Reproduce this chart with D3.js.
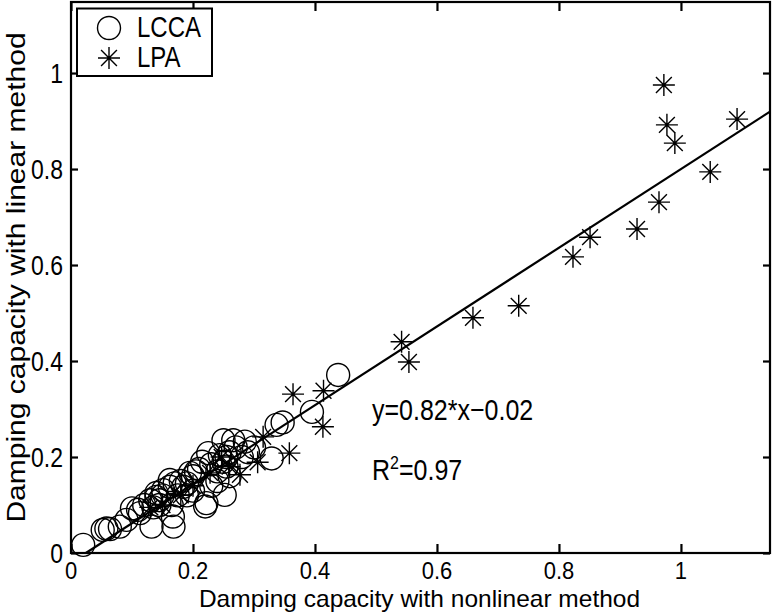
<!DOCTYPE html>
<html><head><meta charset="utf-8">
<script src="https://cdn.jsdelivr.net/npm/d3@7"></script>
<style>body{margin:0;background:#fff}svg{display:block}text{font-family:"Liberation Sans",Arial,sans-serif}</style>
</head><body>
<svg id="c" width="772" height="613"></svg>
<script>
const xTicks = [0, 0.2, 0.4, 0.6, 0.8, 1];
const yTicks = [0, 0.2, 0.4, 0.6, 0.8, 1];
const xTickLabels = ["0","0.2","0.4","0.6","0.8","1"];
const yTickLabels = ["0","0.2","0.4","0.6","0.8","1"];
const seriesNames = ["LCCA","LPA"];
const lccaX = [0.02,0.052,0.058,0.064,0.08,0.091,0.10,0.113,0.132,0.13,0.14,0.145,0.168,0.162,0.17,0.151,0.184,0.195,0.162,0.167,0.22,0.252,0.255,0.225,0.244,0.25,0.266,0.285,0.329,0.337,0.347,0.395,0.438,0.222,0.12,0.135,0.14,0.15,0.175,0.18,0.19,0.2,0.21,0.215,0.23,0.24,0.255,0.26,0.27,0.28,0.29,0.30,0.24,0.26,0.2,0.23,0.11,0.145,0.165,0.19,0.205,0.25];
const lccaY = [0.017,0.048,0.051,0.05,0.055,0.069,0.093,0.083,0.055,0.11,0.117,0.10,0.055,0.138,0.145,0.131,0.138,0.167,0.152,0.076,0.097,0.121,0.18,0.208,0.204,0.235,0.235,0.232,0.197,0.267,0.272,0.294,0.371,0.104,0.10,0.095,0.125,0.12,0.12,0.15,0.145,0.16,0.175,0.19,0.185,0.17,0.20,0.21,0.22,0.20,0.21,0.22,0.15,0.16,0.13,0.14,0.09,0.11,0.10,0.12,0.17,0.19];
const lpaX = [0.972,0.977,0.990,1.092,1.048,0.964,0.928,0.851,0.823,0.734,0.659,0.542,0.554,0.364,0.414,0.413,0.358,0.315,0.306,0.277,0.247,0.228,0.20,0.18,0.26,0.15,0.13];
const lpaY = [0.975,0.892,0.854,0.904,0.794,0.731,0.675,0.658,0.617,0.515,0.490,0.440,0.398,0.331,0.338,0.263,0.208,0.242,0.189,0.163,0.20,0.167,0.14,0.12,0.18,0.10,0.095];
const fitSlope = 0.82, fitIntercept = -0.02;
const eqText = "y=0.82*x\u22120.02";
const r2Value = "0.97";
const xLabel = "Damping capacity with nonlinear method";
const yLabel = "Damping capacity with linear method";

const svg = d3.select("#c");
const L = 71, R = 770, T = 2, B = 553;
const SY = 1.2;
const x = d3.scaleLinear().domain([0, 1.146]).range([L, R]);
const y = d3.scaleLinear().domain([0, 1.148]).range([B, T]);

function stext(parent, px, py, str, size, anchor, sy){
  return parent.append("text").attr("transform",`translate(${px},${py}) scale(1,${sy||SY})`)
    .attr("font-size",size).attr("text-anchor",anchor||"start").attr("fill","#000").text(str);
}

const g = svg.append("g");
g.selectAll("circle.d").data(lccaX.map((v,i)=>[v,lccaY[i]])).join("circle")
 .attr("cx", d=>x(d[0])).attr("cy", d=>y(d[1])).attr("r", 11.5)
 .attr("fill","none").attr("stroke","#000").attr("stroke-width",1.4);
function star(sel, s){
  const a = s*0.72;
  sel.append("path").attr("d", `M${-s},0H${s}M0,${-s}V${s}M${-a},${-a}L${a},${a}M${-a},${a}L${a},${-a}`)
    .attr("stroke","#000").attr("stroke-width",1.4).attr("fill","none");
}
g.selectAll("g.s").data(lpaX.map((v,i)=>[v,lpaY[i]])).join("g")
 .attr("transform", d=>`translate(${x(d[0])},${y(d[1])})`).each(function(){ star(d3.select(this), 11); });

const x0 = -fitIntercept/fitSlope, x1 = 1.146;
svg.append("line").attr("x1", x(x0)).attr("y1", y(fitSlope*x0+fitIntercept))
 .attr("x2", x(x1)).attr("y2", y(fitSlope*x1+fitIntercept)).attr("stroke","#000").attr("stroke-width",2.2);

const axB = d3.axisBottom(x).tickValues(xTicks).tickFormat("").tickSize(-9);
const axL = d3.axisLeft(y).tickValues(yTicks).tickFormat("").tickSize(-7);
const axT = d3.axisTop(x).tickValues(xTicks).tickFormat("").tickSize(-9);
const axR = d3.axisRight(y).tickValues(yTicks).tickFormat("").tickSize(-7);
function style(a){ a.select(".domain").remove(); a.selectAll("line").attr("stroke","#000").attr("stroke-width",2.2); }
svg.append("g").attr("transform",`translate(0,${B})`).call(axB).call(style);
svg.append("g").attr("transform",`translate(${L},0)`).call(axL).call(style);
svg.append("g").attr("transform",`translate(0,${T})`).call(axT).call(style);
svg.append("g").attr("transform",`translate(${R},0)`).call(axR).call(style);
svg.append("rect").attr("x",L).attr("y",T).attr("width",R-L).attr("height",B-T).attr("fill","none").attr("stroke","#000").attr("stroke-width",2.2);

const TS = 22, TSY = 1.1;
xTicks.forEach((t,i)=> stext(svg, x(t), 578.5, xTickLabels[i], TS, "middle", TSY));
yTicks.forEach((t,i)=> stext(svg, 63, y(t) + 0.358*23*SY, yTickLabels[i], 23, "end"));

stext(svg, (L+R)/2 - 1, 606.5, xLabel, 24.5, "middle", 0.98);
svg.append("text").attr("transform",`translate(25,${(T+B)/2}) rotate(-90) scale(${SY},1)`)
  .attr("font-size",25).attr("text-anchor","middle").text(yLabel);

stext(svg, 372, 420, eqText, 25);
const r2 = svg.append("text").attr("transform",`translate(372,480) scale(1,${SY})`).attr("font-size",25);
r2.append("tspan").text("R");
r2.append("tspan").attr("font-size",16).attr("dy",-9).text("2");
r2.append("tspan").attr("dy",9).text("="+r2Value);

const lg = svg.append("g");
lg.append("rect").attr("x",77).attr("y",8.5).attr("width",135).attr("height",67.5).attr("fill","#fff").attr("stroke","#000").attr("stroke-width",2);
lg.append("circle").attr("cx",109).attr("cy",28).attr("r",11.5).attr("fill","none").attr("stroke","#000").attr("stroke-width",1.4);
star(lg.append("g").attr("transform","translate(109,58)"), 11);
stext(lg, 137, 37, seriesNames[0], 24);
stext(lg, 137, 67, seriesNames[1], 24);
</script>
</body></html>
